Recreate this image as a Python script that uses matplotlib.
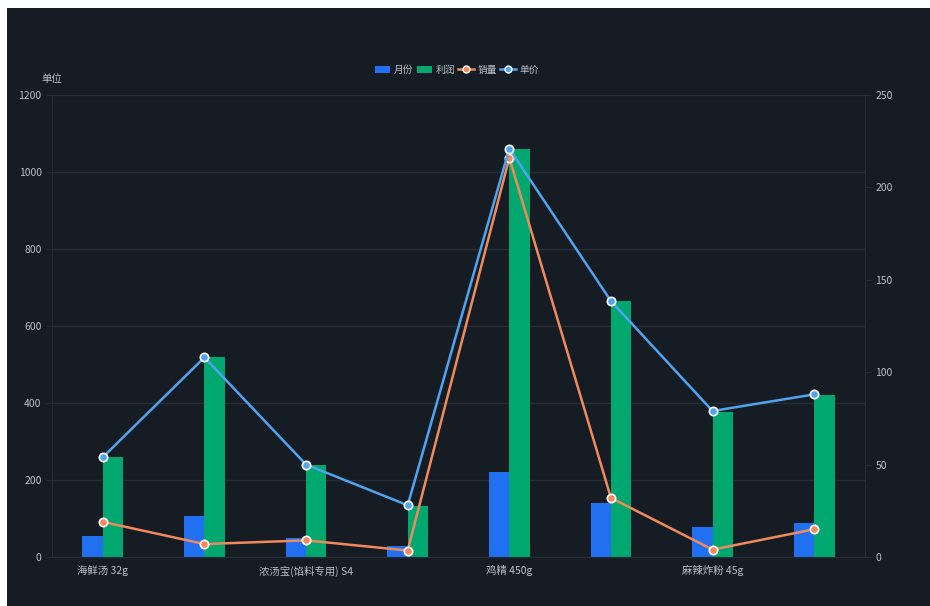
import numpy as np
import matplotlib.pyplot as plt
from matplotlib.patches import Patch, Rectangle
from matplotlib.lines import Line2D

plt.rcParams['font.family'] = ['Noto Sans CJK SC', 'DejaVu Sans']

# data (odd categories have no visible label)
categories = ['海鲜汤 32g', '', '浓汤宝(馅料专用) S4', '', '鸡精 450g', '', '麻辣炸粉 45g', '']
month = [55, 106, 50, 28, 220, 140, 78, 88]          # left axis
profit = [260, 519, 239, 133, 1060, 665, 377, 421]   # left axis
sales = [19, 7, 9, 3.5, 216, 32, 4, 15]              # right axis
price = [54, 108, 50, 28, 221, 138.5, 79, 88]        # right axis

bg = '#161c23'
grid_c = '#252d36'
text_c = '#b9bec6'
c_month = '#2170f1'
c_profit = '#00a870'
c_sales = '#f08a5d'
c_price = '#4fa3f0'

fig = plt.figure(figsize=(9.3, 6.06), dpi=100)
fig.patch.set_facecolor('white')
fig.add_artist(Rectangle((7 / 930, 0), 1, 1 - 8 / 606, transform=fig.transFigure,
                         facecolor=bg, edgecolor='none', zorder=-10))

ax = fig.add_axes([52 / 930, 49 / 606, 813 / 930, 462 / 606])
ax.set_facecolor(bg)
ax2 = ax.twinx()

x = np.arange(len(categories))
w = 0.2
ax.bar(x - w / 2, month, width=w, color=c_month, zorder=2)
ax.bar(x + w / 2, profit, width=w, color=c_profit, zorder=2)

mk = dict(marker='o', markersize=6, markeredgecolor='white', markeredgewidth=1.2, linewidth=1.8)
ax2.plot(x, sales, color=c_sales, markerfacecolor=c_sales, zorder=3, **mk)
ax2.plot(x, price, color=c_price, markerfacecolor=c_price, zorder=4, **mk)

ax.set_xlim(-0.5, len(categories) - 0.5)
ax.set_ylim(0, 1200)
ax.set_yticks(range(0, 1201, 200))
ax2.set_ylim(0, 250)
ax2.set_yticks(range(0, 251, 50))

ax.set_xticks(x[::2])
ax.set_xticklabels(categories[::2])

ax.grid(axis='y', color=grid_c, linewidth=1, zorder=0)
ax.set_axisbelow(True)

for a in (ax, ax2):
    for s in a.spines.values():
        s.set_color(grid_c)
    a.spines['top'].set_visible(False)
    a.tick_params(colors=text_c, labelsize=7.5, length=4, color=grid_c)
ax.spines['bottom'].set_color('#3a424c')
ax.tick_params(axis='x', length=0, pad=6)

fig.text(52 / 930, 1 - 79 / 606, '单位', color=text_c, fontsize=7.5, ha='center', va='center')

lg = dict(marker='o', markersize=5, markeredgecolor='white', markeredgewidth=1, linewidth=1.8)
handles = [
    Patch(facecolor=c_month, label='月份'),
    Patch(facecolor=c_profit, label='利润'),
    Line2D([], [], color=c_sales, markerfacecolor=c_sales, label='销量', **lg),
    Line2D([], [], color=c_price, markerfacecolor=c_price, label='单价', **lg),
]
fig.legend(handles=handles, loc='center', bbox_to_anchor=(457 / 930, 1 - 70 / 606), ncol=4,
           frameon=False, fontsize=7, labelcolor=text_c, handlelength=1.6, handleheight=0.8,
           handletextpad=0.4, columnspacing=0.3)

fig.savefig('out.png', dpi=100, facecolor=fig.get_facecolor())
